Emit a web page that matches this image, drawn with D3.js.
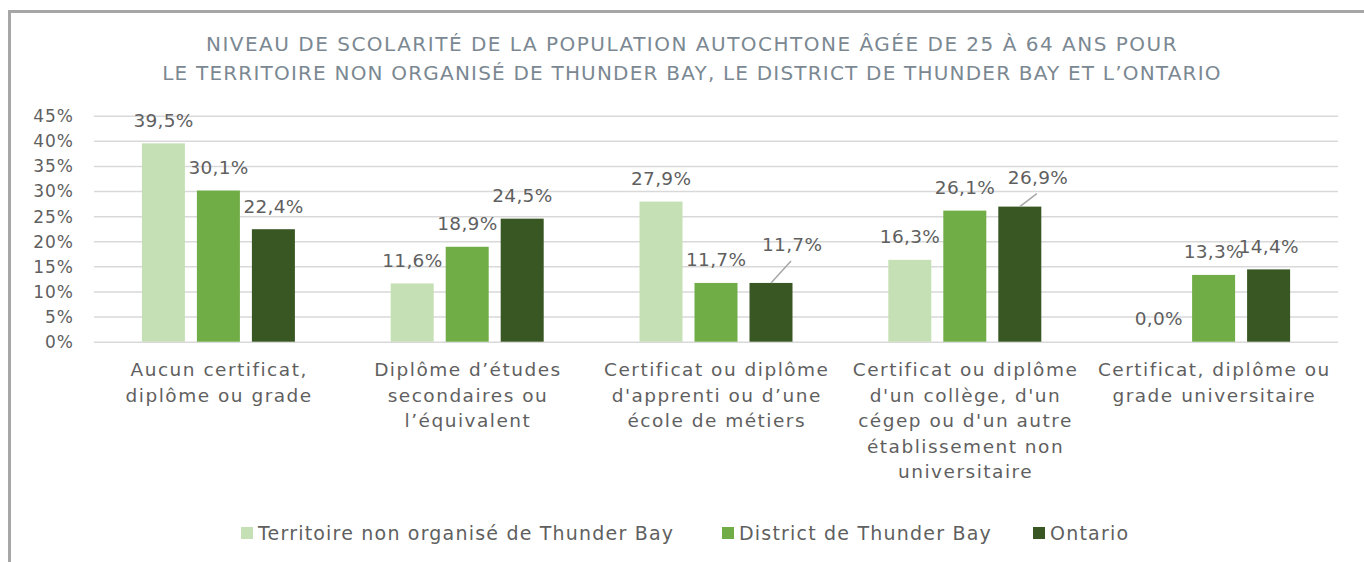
<!DOCTYPE html>
<html>
<head>
<meta charset="utf-8">
<script src="https://cdn.jsdelivr.net/npm/d3@7"></script>
<style>
  html, body { margin: 0; padding: 0; background: #fff; overflow: hidden; }
  svg { display: block; }
  text { font-family: "DejaVu Sans", sans-serif; }
</style>
</head>
<body>
<svg id="chart" width="1364" height="562"></svg>
<script>
// ---- data ----
const titleLines = [
  "NIVEAU DE SCOLARITÉ DE LA POPULATION AUTOCHTONE ÂGÉE DE 25 À 64 ANS POUR",
  "LE TERRITOIRE NON ORGANISÉ DE THUNDER BAY, LE DISTRICT DE THUNDER BAY ET L’ONTARIO"
];
const categories = [
  "Aucun certificat, diplôme ou grade",
  "Diplôme d’études secondaires ou l’équivalent",
  "Certificat ou diplôme d'apprenti ou d’une école de métiers",
  "Certificat ou diplôme d'un collège, d'un cégep ou d'un autre établissement non universitaire",
  "Certificat, diplôme ou grade universitaire"
];
const categoryLines = [
  ["Aucun certificat,", "diplôme ou grade"],
  ["Diplôme d’études", "secondaires ou", "l’équivalent"],
  ["Certificat ou diplôme", "d'apprenti ou d’une", "école de métiers"],
  ["Certificat ou diplôme", "d'un collège, d'un", "cégep ou d'un autre", "établissement non", "universitaire"],
  ["Certificat, diplôme ou", "grade universitaire"]
];
const seriesNames = ["Territoire non organisé de Thunder Bay", "District de Thunder Bay", "Ontario"];
const territoire = [39.5, 11.6, 27.9, 16.3, 0.0];
const district   = [30.1, 18.9, 11.7, 26.1, 13.3];
const ontario    = [22.4, 24.5, 11.7, 26.9, 14.4];
const yTicks = [0, 5, 10, 15, 20, 25, 30, 35, 40, 45];
const colors = ["#c5e0b4", "#70ad47", "#385723"];
// labels moved off their default spot (series index, category index, dx, dy)
const movedLabels = [
  { s: 2, c: 2, dx: 21, dy: -15 },
  { s: 2, c: 3, dx: 18, dy: -6 }
];

// ---- chart ----
const svg = d3.select("#chart");
const series = [territoire, district, ontario];

// frame
svg.append("rect")
  .attr("x", 9.5).attr("y", 11.5)
  .attr("width", 1400).attr("height", 600)
  .attr("fill", "none").attr("stroke", "#a6a6a6").attr("stroke-width", 3);

// title
svg.append("g").selectAll("text").data(titleLines).join("text")
  .attr("x", 692).attr("y", (d, i) => 51 + i * 29)
  .attr("text-anchor", "middle")
  .attr("font-size", 20)
  .attr("letter-spacing", (d, i) => i === 0 ? 1.5 : 1.2)
  .attr("fill", "#7b8892")
  .text(d => d);

const plot = { left: 94, right: 1338, top: 115.7, bottom: 341.7 };
const y = d3.scaleLinear().domain([0, 45]).range([plot.bottom, plot.top]);
const x0 = d3.scaleBand().domain(d3.range(categories.length)).range([plot.left, plot.right]).paddingInner(0).paddingOuter(0);
const x1 = d3.scaleBand().domain([0, 1, 2]).range([x0.bandwidth() / 2 - 76.5, x0.bandwidth() / 2 + 76.5]).paddingInner(12 / 55).paddingOuter(0);

// gridlines
const yAxis = d3.axisLeft(y).tickValues(yTicks).tickSize(-(plot.right - plot.left)).tickFormat(d => d + "%");
const gAxis = svg.append("g").attr("transform", `translate(${plot.left},0)`).call(yAxis);
gAxis.select(".domain").remove();
gAxis.selectAll(".tick line").attr("stroke", "#d9d9d9").attr("stroke-width", 1.5);
gAxis.selectAll(".tick text")
  .attr("x", -20).attr("dy", "0.35em")
  .attr("font-size", 17).attr("fill", "#5f5f5f")
  .attr("letter-spacing", 1)
  .attr("font-family", "DejaVu Sans, sans-serif");

// bars
const groups = svg.append("g").selectAll("g").data(categories).join("g")
  .attr("transform", (d, i) => `translate(${x0(i)},0)`);

groups.selectAll("rect").data((d, ci) => series.map((s, si) => ({ si, ci, v: s[ci] })))
  .join("rect")
  .attr("x", d => x1(d.si))
  .attr("width", x1.bandwidth())
  .attr("y", d => y(d.v))
  .attr("height", d => y(0) - y(d.v))
  .attr("fill", d => colors[d.si]);

// data labels
const lblData = [];
series.forEach((s, si) => s.forEach((v, ci) => {
  const m = movedLabels.find(o => o.s === si && o.c === ci);
  const cx = x0(ci) + x1(si) + x1.bandwidth() / 2;
  const top = y(v);
  lblData.push({ si, ci, v, cx, top, dx: m ? m.dx : 0, dy: m ? m.dy : 0, moved: !!m });
}));

svg.append("g").selectAll("line").data(lblData.filter(d => d.moved)).join("line")
  .attr("x1", d => d.cx).attr("y1", d => d.top)
  .attr("x2", d => d.cx + d.dx - 1).attr("y2", d => d.top - 23 + d.dy + 16)
  .attr("stroke", "#a6a6a6").attr("stroke-width", 1.5);

svg.append("g").selectAll("text").data(lblData).join("text")
  .attr("x", d => d.cx + d.dx + 0.2)
  .attr("y", d => d.top - 23 + d.dy)
  .attr("dy", "0.35em")
  .attr("text-anchor", "middle")
  .attr("font-size", 18.5)
  .attr("letter-spacing", 0.3)
  .attr("fill", "#5f5f5f")
  .text(d => d3.format(".1f")(d.v).replace(".", ",") + "%");

// category labels
const catG = svg.append("g").selectAll("text").data(categoryLines).join("text")
  .attr("text-anchor", "middle")
  .attr("font-size", 18.5)
  .attr("letter-spacing", 1.5)
  .attr("fill", "#5f5f5f");
catG.selectAll("tspan").data((d, i) => d.map(t => ({ t, i }))).join("tspan")
  .attr("x", d => x0(d.i) + x0.bandwidth() / 2 + 0.75)
  .attr("y", (d, j) => 370 + j * 25.5)
  .attr("dy", "0.35em")
  .text(d => d.t);

// legend
const legendX = [241, 722, 1033];
const lg = svg.append("g").selectAll("g").data(seriesNames).join("g")
  .attr("transform", (d, i) => `translate(${legendX[i]},533)`);
lg.append("rect").attr("x", 0).attr("y", -6).attr("width", 12).attr("height", 12)
  .attr("fill", (d, i) => colors[i]);
lg.append("text").attr("x", 17).attr("dy", "0.35em")
  .attr("font-size", 19).attr("fill", "#5f5f5f")
  .attr("letter-spacing", 1.2)
  .text(d => d);
</script>
</body>
</html>
